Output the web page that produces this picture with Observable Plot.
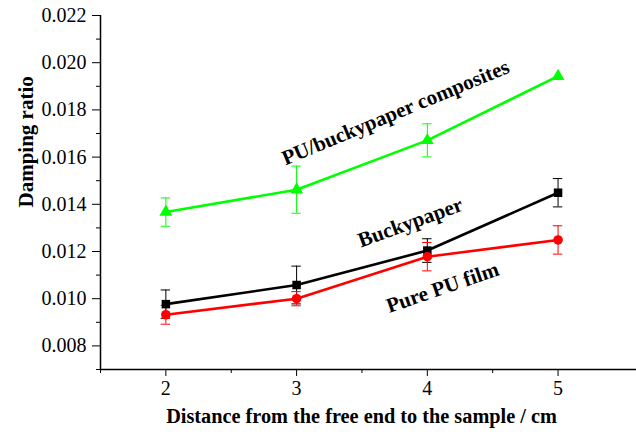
<!DOCTYPE html>
<html><head><meta charset="utf-8">
<script src="https://cdn.jsdelivr.net/npm/d3@7"></script>
<script src="https://cdn.jsdelivr.net/npm/@observablehq/plot@0.6"></script>
<style>
body{margin:0;background:#fff}
#chart svg, #chart svg text{font-family:"Times New Roman","Liberation Serif","DejaVu Serif",serif !important}
</style>
</head><body><div id="chart"></div>
<script>
// ---- data ----
const distance = [2, 3, 4, 5];
const pureValues = [0.00932, 0.01000, 0.01178, 0.01249];
const pureErrors = [0.0004, 0.0003, 0.0006, 0.0006];
const buckyValues = [0.00977, 0.01058, 0.01204, 0.01449];
const buckyErrors = [0.0006, 0.0008, 0.0005, 0.0006];
const compValues = [0.01367, 0.01462, 0.01671, 0.01943];
const compErrors = [0.0006, 0.0010, 0.0007, 0.0000];
const seriesNames = ["Buckypaper", "Pure PU film", "PU/buckypaper composites"];
const yTicks = [0.008, 0.010, 0.012, 0.014, 0.016, 0.018, 0.020, 0.022];
const yMinorTicks = [0.007, 0.009, 0.011, 0.013, 0.015, 0.017, 0.019, 0.021];
const xTicks = [2, 3, 4, 5];
const xMinorTicks = [1.5, 2.5, 3.5, 4.5];
const xLabel = "Distance from the free end to the sample / cm";
const yLabel = "Damping ratio";
// label anchor points (data units)
const labelX = [3.87, 4.116, 3.757];
const labelY = [0.01323, 0.01047, 0.01789];

// ---- styles ----
const fontStack = "'Times New Roman','Liberation Serif','DejaVu Serif',serif";
const colors = {"Buckypaper": "#000000", "Pure PU film": "#ff0000", "PU/buckypaper composites": "#00ff00"};
const symbols = {"Buckypaper": "square", "Pure PU film": "circle", "PU/buckypaper composites": "triangle"};
const rotations = {"Buckypaper": -20, "Pure PU film": -19, "PU/buckypaper composites": -22.5};

const valueSets = [buckyValues, pureValues, compValues];
const errorSets = [buckyErrors, pureErrors, compErrors];
const series = seriesNames.map((name, k) => ({
  name,
  rows: distance.map((x, i) => ({x, y: valueSets[k][i], e: errorSets[k][i]}))
}));

const capHalf = 0.036;
const marks = [];
series.forEach(s => {
  const c = colors[s.name];
  const withErr = s.rows.filter(d => d.e > 0);
  marks.push(Plot.ruleX(withErr, {x: "x", y1: d => d.y - d.e, y2: d => d.y + d.e, stroke: c, strokeWidth: 1}));
  marks.push(Plot.ruleY(withErr, {y: d => d.y + d.e, x1: d => d.x - capHalf, x2: d => d.x + capHalf, stroke: c, strokeWidth: 1}));
  marks.push(Plot.ruleY(withErr, {y: d => d.y - d.e, x1: d => d.x - capHalf, x2: d => d.x + capHalf, stroke: c, strokeWidth: 1}));
});
series.forEach(s => {
  const c = colors[s.name];
  marks.push(Plot.line(s.rows, {x: "x", y: "y", stroke: c, strokeWidth: 2.6}));
  marks.push(Plot.dot(s.rows, {x: "x", y: "y", fill: c, stroke: "none", symbol: symbols[s.name], r: 4.8}));
});
seriesNames.forEach((name, k) => {
  marks.push(Plot.text([{x: labelX[k], y: labelY[k], t: name}], {
    x: "x", y: "y", text: "t", rotate: rotations[name], fontSize: 21, fontWeight: "bold", fill: "#000", fontFamily: fontStack
  }));
});

const chart = Plot.plot({
  width: 636,
  height: 436,
  marginLeft: 100,
  marginRight: 0,
  marginTop: 15,
  marginBottom: 67,
  x: {domain: [1.5, 5.6]},
  y: {domain: [0.007, 0.022]},
  style: {color: "#000", background: "#fff", fontFamily: fontStack},
  marks: [
    Plot.axisY({ticks: yTicks, tickFormat: d3.format(".3f"), tickSize: 8, tickPadding: 6, fontSize: 20, label: null, fontFamily: fontStack}),
    Plot.axisY({ticks: yMinorTicks, tickFormat: () => "", tickSize: 4, label: null}),
    Plot.axisX({ticks: xTicks, tickFormat: d3.format("d"), tickSize: 7, tickPadding: 4, fontSize: 20, label: null, fontFamily: fontStack}),
    Plot.axisX({ticks: xMinorTicks, tickFormat: () => "", tickSize: 4, label: null}),
    Plot.ruleX([1.5], {stroke: "#000", strokeWidth: 1.5}),
    Plot.ruleY([0.007], {stroke: "#000", strokeWidth: 1.5}),
    ...marks,
    Plot.text([yLabel], {frameAnchor: "left", dx: -74, dy: 15, rotate: -90, fontSize: 21, fontWeight: "bold", fill: "#000", fontFamily: fontStack}),
    Plot.text([xLabel], {frameAnchor: "bottom", dx: -7, dy: 53, fontSize: 20.3, fontWeight: "bold", fill: "#000", fontFamily: fontStack})
  ]
});
document.getElementById("chart").appendChild(chart);
</script>
</body></html>
